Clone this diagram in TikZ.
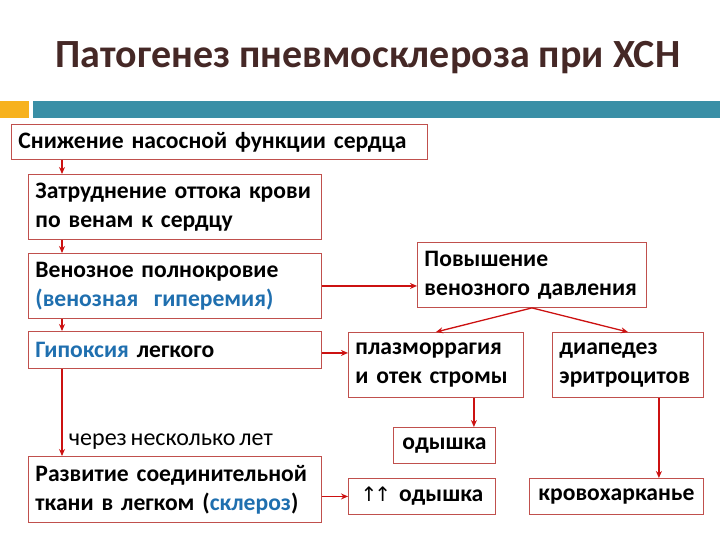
\documentclass[tikz,border=0pt]{standalone}
\usepackage{fontspec}
\setmainfont{Carlito}[WordSpace=0.7]
\newfontfamily\titlefont{Carlito}
\newfontfamily\arrfont{DejaVu Sans}
\usetikzlibrary{positioning, arrows.meta, calc}
\definecolor{ptitle}{HTML}{452826}
\definecolor{pline}{HTML}{C0504D}
\definecolor{parr}{HTML}{CC1111}
\definecolor{pblue}{HTML}{1F6FAF}
\definecolor{porange}{HTML}{F7B21E}
\definecolor{pteal}{HTML}{3A8FA6}
\tikzset{
  pbox/.style={draw=pline, fill=white, line width=0.9pt, anchor=north west,
    inner xsep=7pt, inner ysep=0pt, align=left,
    font=\bfseries\fontsize{23.6}{29}\selectfont},
  pcbox/.style={pbox, align=center},
  parrow/.style={-{Stealth[length=7pt,width=6pt]}, color=parr, line width=1.3pt}
}

\begin{document}
\begin{tikzpicture}[x=1pt, y=-1pt]
  \useasboundingbox (0,0) rectangle (720,540);
  \node[font=\titlefont\bfseries\fontsize{40}{48}\selectfont, text=ptitle] (title) at (368,58)
    {Патогенез пневмосклероза при ХСН};
  \fill[porange] (0,101) rectangle (29,118);
  \fill[pteal] (33,101) rectangle (720,118);

  % left column
  \node[pbox, text width=402pt, minimum height=35pt] (sniz) at (11,124)
    {Снижение насосной функции сердца};
  \node[pbox, text width=279pt, minimum height=65pt] (zatr) at (28,174)
    {Затруднение оттока крови\\по венам к сердцу};
  \node[pbox, text width=279pt, minimum height=65pt] (ven) at (28,253)
    {Венозное полнокровие\\\textcolor{pblue}{(венозная\ \ гиперемия)}};
  \node[pbox, text width=279pt, minimum height=37pt] (gip) at (28,331)
    {\textcolor{pblue}{Гипоксия} легкого};
  \node[pbox, text width=279pt, minimum height=66pt] (razv) at (28,456)
    {Развитие соединительной\\ткани в легком (\textcolor{pblue}{склероз})};

  % right part
  \node[pbox, text width=215pt, minimum height=65pt] (povysh) at (417,242)
    {Повышение\\венозного давления};
  \node[pbox, text width=161pt, minimum height=65pt] (plazm) at (348,332)
    {плазморрагия\\и отек стромы};
  \node[pbox, text width=137pt, minimum height=65pt] (diap) at (552,332)
    {диапедез\\эритроцитов};
  \node[pcbox, text width=88pt, minimum height=36pt] (odysh) at (393,427)
    {одышка};
  \node[pcbox, text width=133pt, minimum height=36pt] (odysh2) at (348,478)
    {{\arrfont\mdseries\fontsize{20}{20}\selectfont ↑\kern-3pt↑} одышка};
  \node[pcbox, text width=160pt, minimum height=36pt] (krov) at (529,478)
    {кровохарканье};

  % arrows
  \draw[parrow] ([xshift=34pt]zatr.north west |- sniz.south) -- ([xshift=34pt]zatr.north west);
  \draw[parrow] ([xshift=34pt]zatr.south west) -- ([xshift=34pt]ven.north west);
  \draw[parrow] ([xshift=34pt]ven.south west) -- ([xshift=34pt]gip.north west);
  \draw[parrow] ([xshift=34pt]gip.south west) -- ([xshift=34pt]razv.north west)
    node[pos=0.84, right=3pt, text=black, font=\fontsize{24}{25}\selectfont] (cherez)
    {через несколько лет};
  \draw[parrow] (ven.east) -- (ven.east -| povysh.west);
  \draw[parrow] ([yshift=-3pt]gip.east) -- ([yshift=-3pt]gip.east -| plazm.west);
  \draw[parrow] (odysh2.west -| razv.east) -- (odysh2.west);
  \draw[parrow] (povysh.south) -- (plazm.north);
  \draw[parrow] (povysh.south) -- (diap.north);
  \draw[parrow] ([xshift=-22pt]odysh.north east |- plazm.south) -- ([xshift=-22pt]odysh.north east);
  \draw[parrow] ([xshift=-45pt]krov.north east |- diap.south) -- ([xshift=-45pt]krov.north east);
\end{tikzpicture}
\end{document}
